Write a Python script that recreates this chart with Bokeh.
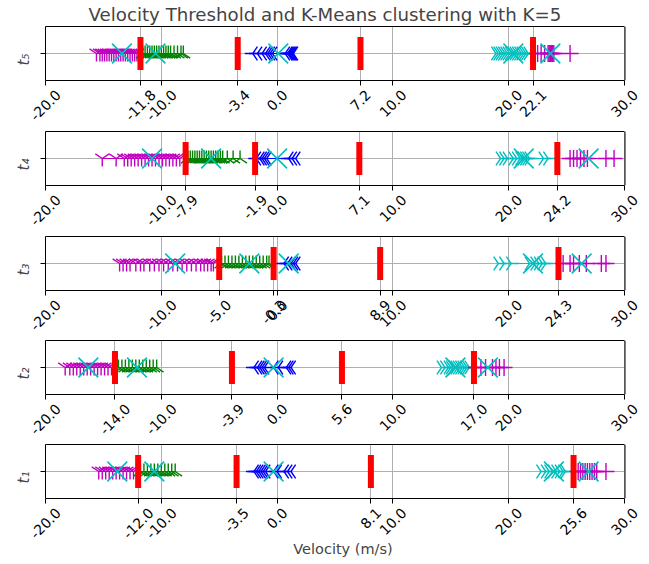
import math
from bokeh.plotting import figure
from bokeh.models import FixedTicker, Range1d, LinearAxis
from bokeh.layouts import column
from bokeh.embed import file_html
from bokeh.resources import INLINE

# ---------------- data ----------------
title_text = "Velocity Threshold and K-Means clustering with K=5"
xlabel_text = "Velocity (m/s)"
base_ticks = [-20.0, -10.0, 0.0, 10.0, 20.0, 30.0]
panel_names = ["t₅", "t₄", "t₃", "t₂", "t₁"]

t5_m1 = [-15.6, -15.3, -15.1, -14.9, -14.7, -14.5, -14.3, -14.1, -13.9, -13.7, -13.5, -13.3, -13.1, -12.9, -12.7, -12.5, -12.3, -12.1]
t5_g = [-11.6, -11.4, -11.2, -11.0, -10.8, -10.6, -10.4, -10.2, -10.0, -9.8, -9.6, -9.4, -9.2, -8.9, -8.6, -8.3, -8.1]
t5_b = [-2.1, -1.7, -1.3, -1.0, -0.8, -0.6, -0.4, 0.7, 0.9, 1.0, 1.1, 1.2, 1.3, 1.4]
t5_c = [18.9, 19.1, 19.3, 19.5, 19.7, 19.9, 20.1, 20.3, 20.5, 20.7, 20.9, 21.1, 21.3, 21.5, 21.7]
t5_m2 = [22.5, 22.8, 23.1, 23.4, 23.5, 23.6, 23.7, 23.8, 23.9, 25.3]
t5_cent = [-13.4, -10.5, 0.1, 20.4, 23.6]
t5_thr = [-11.8, -3.4, 7.2, 22.1]

t4_m1 = [-15.1, -13.9, -13.2, -12.9, -12.6, -12.3, -12.0, -11.7, -11.4, -11.1, -10.8, -10.5, -10.2, -9.9, -9.6, -9.3, -9.0, -8.7, -8.4]
t4_g = [-7.7, -7.5, -7.3, -7.1, -6.9, -6.7, -6.5, -6.3, -6.1, -5.9, -5.7, -5.5, -5.3, -5.1, -4.9, -4.7, -4.3, -3.8, -3.2]
t4_b = [-1.8, -1.5, -1.3, -1.1, -0.9, 1.0, 1.3, 1.6]
t4_c = [19.3, 19.6, 19.9, 20.4, 20.7, 21.0, 21.2, 21.4, 21.6, 21.8, 23.0, 23.4]
t4_m2 = [25.3, 25.6, 25.9, 26.2, 26.5, 26.8, 28.4, 29.1]
t4_cent = [-10.8, -5.7, 0.0, 21.3, 26.9]
t4_thr = [-7.9, -1.9, 7.1, 24.2]

t3_m1 = [-13.6, -13.3, -13.0, -12.7, -12.2, -11.8, -11.5, -11.0, -10.6, -10.2, -9.8, -9.4, -9.0, -8.6, -8.2, -7.8, -7.4, -7.0, -6.6, -6.3, -6.0, -5.7, -5.5]
t3_g = [-4.8, -4.5, -4.2, -3.9, -3.6, -3.3, -3.0, -2.7, -2.4, -2.1, -1.8, -1.5, -1.2, -0.9, -0.7]
t3_b = [0.6, 0.9, 1.2, 1.4, 1.6]
t3_c = [19.1, 19.6, 20.2, 21.8, 22.3, 22.6, 22.9, 23.2]
t3_m2 = [24.7, 25.3, 25.6, 26.1, 26.7, 28.0, 28.4]
t3_cent = [-8.8, -2.4, 1.0, 22.1, 26.3]
t3_thr = [-5.0, -0.3, 8.9, 24.3]

t2_m1 = [-18.3, -17.9, -17.6, -17.3, -17.0, -16.7, -16.4, -16.1, -15.8, -15.5, -15.2, -14.9, -14.6, -14.3]
t2_g = [-13.7, -13.4, -13.1, -12.8, -12.5, -12.2, -11.9, -11.6, -11.3, -11.0, -10.7, -10.4]
t2_b = [-2.0, -1.7, -1.5, -1.3, -1.1, -0.3, 0.1, 0.8, 1.0, 1.2]
t2_c = [14.2, 14.5, 14.8, 15.0, 15.2, 15.4, 15.6, 15.8, 16.0, 16.2, 16.4, 16.6]
t2_m2 = [17.2, 17.6, 18.0, 18.6, 18.9, 19.2, 19.6]
t2_cent = [-16.3, -12.1, -0.3, 15.4, 18.2]
t2_thr = [-14.0, -3.9, 5.6, 17.0]

t1_m1 = [-15.4, -15.1, -14.8, -14.5, -14.2, -13.9, -13.6, -13.3, -13.0, -12.7, -12.4]
t1_g = [-11.8, -11.5, -11.2, -10.9, -10.6, -10.3, -10.0, -9.7, -9.4, -9.1, -8.8]
t1_b = [-2.0, -1.8, -1.6, -1.4, -1.2, -1.0, -0.3, 0.0, 0.6, 0.9, 1.2]
t1_c = [22.8, 23.2, 23.5, 23.8, 24.1, 24.4, 24.7, 24.9]
t1_m2 = [26.0, 26.2, 26.4, 26.6, 26.8, 27.0, 27.2, 27.4, 27.6, 28.4]
t1_cent = [-13.8, -10.6, -0.3, 23.9, 26.9]
t1_thr = [-12.0, -3.5, 8.1, 25.6]

# ---------------- styles / layout ----------------
MAG, GRN, BLU, CYA, RED = "#bf00bf", "#008000", "#0000ff", "#00bfbf", "#ff0000"
GRID = "#b0b0b0"
FONT = "DejaVu Sans"
TICK_FS = 14.0
LEFT, BOX_W, FRAME_H = 45, 579, 54
EXTRA = 16                      # room right of the box so the last rotated label can sit there
X0, X1 = -20.0, 30.0
PX_PER_UNIT = BOX_W / (X1 - X0)
X_END = X1 + EXTRA / PX_PER_UNIT
STYLES = [("y", 0.0, MAG, 16), ("y", math.pi, GRN, 16), ("y", -math.pi / 2, BLU, 16),
          ("y", math.pi / 2, CYA, 16), ("cross", 0.0, MAG, 17)]
ADV = {"0": 0.636, "1": 0.636, "2": 0.636, "3": 0.636, "4": 0.636, "5": 0.636,
       "6": 0.636, "7": 0.636, "8": 0.636, "9": 0.636, ".": 0.318, "-": 0.361}


def make_panel(name, clusters, cent, thr, top, bottom, title=None, xlabel=None):
    p = figure(frame_width=BOX_W + EXTRA, frame_height=FRAME_H,
               x_range=Range1d(X0, X_END), y_range=Range1d(-1, 1),
               output_backend="svg", toolbar_location=None,
               min_border_left=LEFT, min_border_right=4,
               min_border_top=top, min_border_bottom=bottom)
    p.background_fill_color = "white"
    p.border_fill_color = "white"
    p.outline_line_color = None
    if title:
        p.title.text = title
        p.title.text_font = FONT
        p.title.text_font_size = "18.2px"
        p.title.text_font_style = "normal"
        p.title.align = "left"
        p.title.offset = 43
        p.title.standoff = 3

    ticks = sorted(base_ticks + thr)
    # bottom spine + tick marks
    xa = p.xaxis[0]
    xa.ticker = FixedTicker(ticks=ticks)
    xa.bounds = (X0, X1)
    xa.major_label_text_color = None
    xa.major_label_standoff = 0
    xa.major_tick_in = 0
    xa.major_tick_out = 5
    xa.minor_tick_line_color = None
    xa.axis_line_color = "black"

    # top spine
    ta = LinearAxis(ticker=FixedTicker(ticks=[]), bounds=(X0, X1))
    ta.axis_line_color = "black"
    ta.major_tick_line_color = None
    ta.minor_tick_line_color = None
    ta.major_tick_in = 0
    ta.major_tick_out = 0
    ta.major_label_text_color = None
    ta.major_label_standoff = 0
    p.add_layout(ta, "above")

    # rotated tick labels, each nudged so its centre sits under its tick
    labels = ["%.1f" % t for t in ticks]
    pos, over = [], {}
    for t, lab in zip(ticks, labels):
        w = sum(ADV[c] for c in lab) * TICK_FS
        u = round(t + w / (2 * math.sqrt(2)) / PX_PER_UNIT, 2)
        pos.append(u)
        over[u] = lab
    xb = LinearAxis(ticker=FixedTicker(ticks=pos), major_label_overrides=over)
    xb.axis_line_color = None
    xb.major_tick_line_color = None
    xb.minor_tick_line_color = None
    xb.major_tick_in = 0
    xb.major_tick_out = 0
    xb.major_label_orientation = math.pi / 4
    xb.major_label_standoff = 7
    xb.major_label_text_font = FONT
    xb.major_label_text_font_size = "%.1fpx" % TICK_FS
    xb.major_label_text_color = "black"
    if xlabel:
        xb.axis_label = xlabel
        xb.axis_label_text_font = FONT
        xb.axis_label_text_font_size = "14.5px"
        xb.axis_label_text_font_style = "normal"
        xb.axis_label_standoff = -5
    p.add_layout(xb, "below")

    ya = p.yaxis[0]
    ya.ticker = FixedTicker(ticks=[0])
    ya.major_label_overrides = {0: name}
    ya.major_label_orientation = math.pi / 2
    ya.major_label_text_font = FONT
    ya.major_label_text_font_style = "italic"
    ya.major_label_text_font_size = "15px"
    ya.major_label_standoff = 17
    ya.major_tick_in = 0
    ya.major_tick_out = 5
    ya.minor_tick_line_color = None
    ya.axis_line_color = "black"

    p.xgrid.grid_line_color = GRID
    p.xgrid.grid_line_width = 1
    p.ygrid.visible = False
    # horizontal grid line at y=0, limited to the box
    p.segment(x0=[X0], y0=[0], x1=[X1], y1=[0], line_color=GRID, line_width=1, level="underlay")
    # right spine
    p.segment(x0=[X1 + 0.5 / PX_PER_UNIT], y0=[-1], x1=[X1 + 0.5 / PX_PER_UNIT], y1=[1],
              line_color="black", line_width=1)

    for xs, (mk, ang, col, sz) in zip(clusters, STYLES):
        xs_sorted = sorted(xs)
        p.line(xs_sorted, [0] * len(xs_sorted), line_color=col, line_width=1.2)
        p.scatter(xs, [0] * len(xs), marker=mk, angle=ang, size=sz,
                  line_color=col, line_width=1.4, fill_color=None)
    p.scatter(cent, [0] * len(cent), marker="x", size=28, line_color=CYA, line_width=1.6)
    p.segment(x0=thr, y0=[-0.61] * len(thr), x1=thr, y1=[0.61] * len(thr),
              line_color=RED, line_width=6, line_cap="butt")
    return p


cluster_sets = [
    ([t5_m1, t5_g, t5_b, t5_c, t5_m2], t5_cent, t5_thr),
    ([t4_m1, t4_g, t4_b, t4_c, t4_m2], t4_cent, t4_thr),
    ([t3_m1, t3_g, t3_b, t3_c, t3_m2], t3_cent, t3_thr),
    ([t2_m1, t2_g, t2_b, t2_c, t2_m2], t2_cent, t2_thr),
    ([t1_m1, t1_g, t1_b, t1_c, t1_m2], t1_cent, t1_thr),
]
tops = [26, 0, 0, 0, 0]
bottoms = [51, 51, 50, 50, 60]

children = []
for i, ((cl, cent, thr), top, bot) in enumerate(zip(cluster_sets, tops, bottoms)):
    children.append(make_panel(panel_names[i], cl, cent, thr, top, bot,
                               title=title_text if i == 0 else None,
                               xlabel=xlabel_text if i == 4 else None))

layout = column(*children)
open("out.html", "w").write(file_html(layout, INLINE))
